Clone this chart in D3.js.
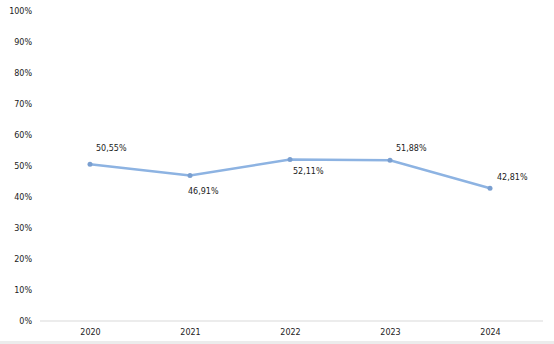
<!DOCTYPE html>
<html><head><meta charset="utf-8">
<script src="https://cdn.jsdelivr.net/npm/d3@7"></script>
<style>body{margin:0;background:#fff}text{font-family:"DejaVu Sans",sans-serif;}</style>
</head><body><svg id="c" width="554" height="344"></svg>
<script>
const years = ["2020","2021","2022","2023","2024"];
const values = [50.55, 46.91, 52.11, 51.88, 42.81];
const valueLabels = ["50,55%","46,91%","52,11%","51,88%","42,81%"];
const yTicks = [0,10,20,30,40,50,60,70,80,90,100];

const svg = d3.select("#c");
const x = d3.scalePoint().domain(years).range([90,490]);
const y = d3.scaleLinear().domain([0,100]).range([321,11]);

svg.append("rect").attr("x",0).attr("y",341).attr("width",554).attr("height",3).attr("fill","#ececec");

const ya = svg.append("g").attr("transform","translate(32,0)")
  .call(d3.axisLeft(y).tickValues(yTicks).tickFormat(d=>d+"%").tickSize(0).tickPadding(0));
ya.select(".domain").remove();
ya.selectAll("text").attr("font-size",8).attr("fill","#222").attr("font-family","DejaVu Sans");

svg.append("line").attr("x1",40).attr("x2",543).attr("y1",y(0)).attr("y2",y(0))
  .attr("stroke","#d9d9d9").attr("stroke-width",1);

const xa = svg.append("g").attr("transform",`translate(0,${y(0)})`)
  .call(d3.axisBottom(x).tickSize(0).tickPadding(8));
xa.select(".domain").remove();
xa.selectAll("text").attr("font-size",8).attr("fill","#222").attr("font-family","DejaVu Sans");

const line = d3.line().x((d,i)=>x(years[i])).y(d=>y(d));
svg.append("path").datum(values).attr("d",line).attr("fill","none")
  .attr("stroke","#8db3e2").attr("stroke-width",2.5);
svg.selectAll("circle.p").data(values).join("circle")
  .attr("cx",(d,i)=>x(years[i])).attr("cy",d=>y(d)).attr("r",2.5).attr("fill","#7a9fd0");

const offs = [[6,-13],[-2,18],[3,15],[6,-9],[7,-8]];
svg.selectAll("text.lbl").data(values).join("text")
  .attr("x",(d,i)=>x(years[i])+offs[i][0]).attr("y",(d,i)=>y(d)+offs[i][1])
  .attr("font-size",8).attr("fill","#222").text((d,i)=>valueLabels[i]);
</script></body></html>
